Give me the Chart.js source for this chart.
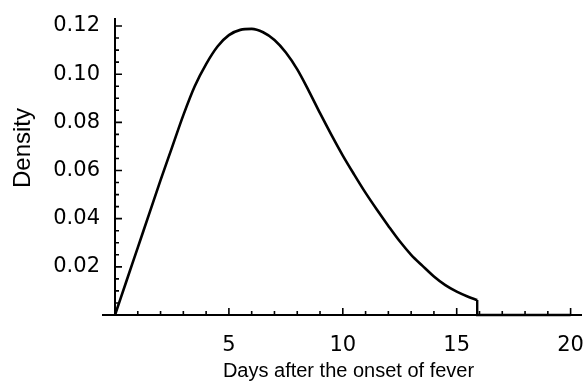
<!DOCTYPE html>
<html>
<head>
<meta charset="utf-8">
<script src="https://cdn.jsdelivr.net/npm/chart.js@4.4.0/dist/chart.umd.min.js"></script>
<style>
  html, body { margin: 0; padding: 0; background: #fff; }
  #wrap { width: 584px; height: 383px; }
</style>
</head>
<body>
<div id="wrap"><canvas id="density"></canvas></div>
<script>
// values ------------------------------------------------------------------
const days    = [0, 0.5, 1, 1.5, 2, 2.5, 3, 3.5, 4, 4.5, 5, 5.5, 6, 6.5, 7, 7.5, 8, 8.5,
                 9, 9.5, 10, 10.5, 11, 11.5, 12, 12.5, 13, 13.5, 14, 14.5, 15, 15.5, 15.9];
const density = [0, 0.0140, 0.0280, 0.0420, 0.0560, 0.0695, 0.0830, 0.0950, 0.1042, 0.1115,
                 0.1162, 0.1184, 0.1188, 0.1174, 0.1142, 0.1090, 0.1020, 0.0932, 0.0838, 0.0748,
                 0.0662, 0.0583, 0.0507, 0.0437, 0.0370, 0.0306, 0.0250, 0.0204, 0.0160, 0.0124,
                 0.0097, 0.0076, 0.0062];
// drop to zero at the cut-off, then flat
const tailDays    = [15.9, 15.9, 20];
const tailDensity = [0.0062, 0, 0];

const xTicks = [5, 10, 15, 20];
const yTicks = [0.02, 0.04, 0.06, 0.08, 0.10, 0.12];

const xTitle = 'Days after the onset of fever';
const yTitle = 'Density';

// axes drawn through the origin with small inward tick marks
const axesPlugin = {
  id: 'axes',
  afterDatasetsDraw(chart) {
    const {ctx, chartArea, scales: {x, y}} = chart;
    const x0 = x.getPixelForValue(0);
    const y0 = y.getPixelForValue(0);
    ctx.save();
    ctx.strokeStyle = '#000';
    ctx.lineWidth = 2;
    ctx.beginPath();
    ctx.moveTo(x0 - 13, y0);
    ctx.lineTo(chartArea.right, y0);
    ctx.moveTo(x0, y0);
    ctx.lineTo(x0, chartArea.top - 2);
    ctx.stroke();

    ctx.lineWidth = 1.6;
    ctx.beginPath();
    for (let d = 1; d <= 20; d++) {
      const px = x.getPixelForValue(d);
      const len = d % 5 === 0 ? 7 : 4;
      ctx.moveTo(px, y0);
      ctx.lineTo(px, y0 - len);
    }
    for (let k = 1; k <= 24; k++) {
      const py = y.getPixelForValue(k * 0.005);
      const len = k % 4 === 0 ? 7 : 4;
      ctx.moveTo(x0, py);
      ctx.lineTo(x0 + len, py);
    }
    ctx.stroke();

    // y title
    ctx.fillStyle = '#000';
    ctx.font = '24px "Liberation Sans", Arial, sans-serif';
    ctx.textAlign = 'center';
    ctx.textBaseline = 'middle';
    ctx.translate(23, 148);
    ctx.rotate(-Math.PI / 2);
    ctx.fillText(yTitle, 0, 0);
    ctx.restore();
  }
};

const tickFont = { family: '"DejaVu Sans", sans-serif', size: 21 };

new Chart(document.getElementById('density'), {
  type: 'line',
  data: {
    datasets: [
      {
        data: days.map((d, i) => ({ x: d, y: density[i] })),
        borderColor: '#000',
        borderWidth: 2.6,
        pointRadius: 0,
        cubicInterpolationMode: 'monotone',
        fill: false,
        clip: 4
      },
      {
        data: tailDays.map((d, i) => ({ x: d, y: tailDensity[i] })),
        borderColor: '#000',
        borderWidth: 2.4,
        pointRadius: 0,
        tension: 0,
        fill: false,
        clip: 4
      }
    ]
  },
  options: {
    responsive: true,
    maintainAspectRatio: false,
    animation: false,
    layout: { padding: { top: 20, right: 2, left: 0, bottom: 0 } },
    plugins: {
      legend: { display: false },
      tooltip: { enabled: false }
    },
    scales: {
      x: {
        type: 'linear',
        min: 0,
        max: 20.5,
        grid: { display: false },
        border: { display: false },
        afterBuildTicks: s => { s.ticks = xTicks.map(v => ({ value: v })); },
        afterFit: s => { s.height = 68; s.paddingRight = 0; s.paddingLeft = 0; },
        ticks: {
          font: tickFont,
          color: '#000',
          padding: 10,
          maxRotation: 0,
          autoSkip: false,
          callback: v => String(v)
        },
        title: {
          display: true,
          text: xTitle,
          color: '#000',
          font: { family: '"Liberation Sans", Arial, sans-serif', size: 20 },
          padding: { top: 0, bottom: 0 }
        }
      },
      y: {
        type: 'linear',
        min: 0,
        max: 0.1225,
        grid: { display: false },
        border: { display: false },
        afterBuildTicks: s => { s.ticks = yTicks.map(v => ({ value: v })); },
        afterFit: s => { s.width = 115; },
        ticks: {
          font: tickFont,
          color: '#000',
          padding: 7,
          autoSkip: false,
          callback: v => v.toFixed(2)
        }
      }
    }
  },
  plugins: [axesPlugin]
});
</script>
</body>
</html>
